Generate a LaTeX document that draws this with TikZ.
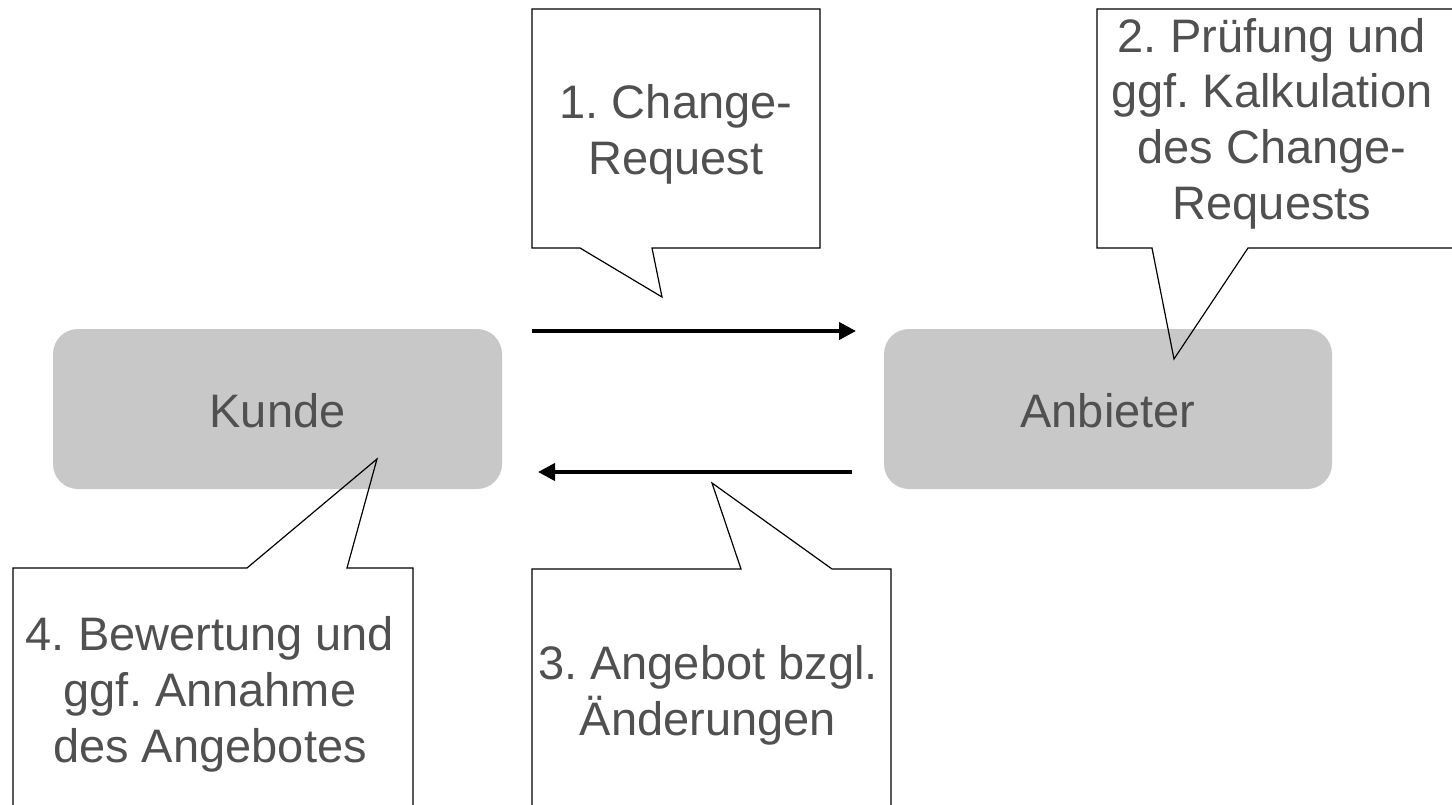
\documentclass[tikz,border=0pt]{standalone}
\usepackage{fontspec}
\setmainfont{Liberation Sans}
\usetikzlibrary{arrows.meta}
\frenchspacing
\definecolor{txt}{RGB}{80,80,80}
\definecolor{boxfill}{RGB}{200,200,200}
\tikzset{
  party/.style={fill=boxfill, rounded corners=25pt},
  lbl/.style={text=txt, align=center, inner sep=0pt, anchor=base, font=\fontsize{47}{56}\selectfont},
  callout/.style={draw=black, line width=1.2pt, line join=miter},
  flow/.style={line width=4pt, -{Triangle[length=17pt,width=17pt]}}
}
\begin{document}
\begin{tikzpicture}[x=1pt,y=-1pt]
\useasboundingbox (0,0) rectangle (1452,805);
\clip (0,0) rectangle (1452,805);
% parties
\fill[party] (53,329) rectangle (502,489);
\fill[party] (884,329) rectangle (1332,489);
\node[lbl] (kunde) at (277.5,427) {Kunde};
\node[lbl] (anbieter) at (1108,427) {Anbieter};
% arrows
\coordinate (a1s) at (532,331);
\coordinate (a1e) at (856,331);
\coordinate (a2s) at (852,472);
\coordinate (a2e) at (538,472);
\draw[flow] (a1s) -- (a1e);
\draw[flow] (a2s) -- (a2e);
% callout 1
\draw[callout] (532,9) -- (532,248) -- (580,248) -- (662,297) -- (652,248) -- (820,248) -- (820,9) -- cycle;
\node[lbl] (t1) at (676,175) {1. Change-\\Request};
% callout 2
\draw[callout] (1097,9) -- (1097,248) -- (1152,248) -- (1174,359) -- (1248,248) -- (1460,248) -- (1460,9) -- cycle;
\node[lbl] (t2) at (1272,220) {2. Prüfung und\\ggf. Kalkulation\\des Change-\\Requests};
% callout 3
\draw[callout] (532,820) -- (532,569) -- (741,569) -- (712,483) -- (832,569) -- (891,569) -- (891,820);
\node[lbl] (t3) at (708,735) {3. Angebot bzgl.\\Änderungen};
% callout 4
\draw[callout] (13,820) -- (13,568) -- (247,568) -- (377,459) -- (347,568) -- (413,568) -- (413,820);
\node[lbl] (t4) at (210,762) {4. Bewertung und\\ggf. Annahme\\des Angebotes};
\end{tikzpicture}
\end{document}
